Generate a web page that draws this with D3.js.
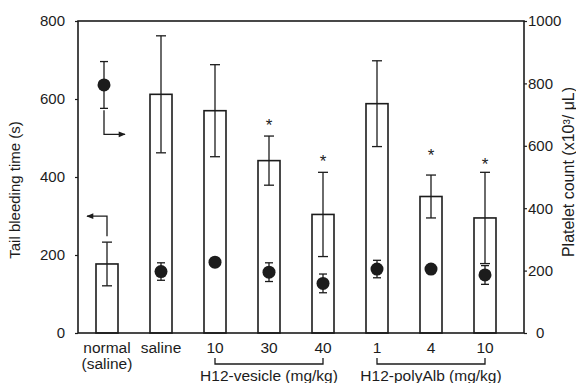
<!DOCTYPE html>
<html>
<head>
<meta charset="utf-8">
<script src="https://cdn.jsdelivr.net/npm/d3@7"></script>
<style>
	body { margin: 0; background: #fff; }
	svg text { font-family: "Liberation Sans", Arial, sans-serif; fill: #1c1c1c; }
</style>
</head>
<body>
<div id="chart"></div>
<script>
// groups along the x axis
var groups = ["normal", "saline", "v10", "v30", "v40", "p1", "p4", "p10"]
var tickLabels = ["normal", "saline", "10", "30", "40", "1", "4", "10"]

// tail bleeding time (s), left axis -> bars
var bleedMean = [177, 612, 570, 442, 304, 588, 350, 295]
var bleedErr = [56, 150, 118, 63, 108, 110, 55, 117]

// platelet count (x10^3/uL), right axis -> dots
var plateletMean = [795, 197, 227, 195, 159, 205, 205, 186]
var plateletErr = [75, 28, 14, 30, 30, 28, 8, 30]

// significance stars (left axis units), null = none
var starLevel = [null, null, null, 540, 448, null, 463, 440]

var leftTicks = [0, 200, 400, 600, 800]
var rightTicks = [0, 200, 400, 600, 800, 1000]

// dose brackets under the axis
var bracketNames = ["H12-vesicle (mg/kg)", "H12-polyAlb (mg/kg)"]
var bracketFrom = ["v10", "p1"]
var bracketTo = ["v40", "p10"]

var w = 576, h = 383
var ink = "#1c1c1c"

var svg = d3.select("#chart")
	.append("svg")
	.attr("width", w)
	.attr("height", h)

// plot frame (note: "top" is taken by window.top)
var frameL = 78, frameR = 524, frameT = 21, frameB = 333

var x = d3.scalePoint()
	.domain(groups)
	.range([107, 485])

var yL = d3.scaleLinear().domain([0, 800]).range([frameB, frameT])
var yR = d3.scaleLinear().domain([0, 1000]).range([frameB, frameT])

var barW = 22

// arrow head
svg.append("defs").append("marker")
	.attr("id", "head")
	.attr("viewBox", "0 0 10 10")
	.attr("refX", 9).attr("refY", 5)
	.attr("markerWidth", 8).attr("markerHeight", 7)
	.attr("markerUnits", "userSpaceOnUse")
	.attr("orient", "auto")
	.append("path")
	.attr("d", "M0,1 L10,5 L0,9 Z")
	.style("fill", ink)

// axes
var axisL = svg.append("g")
	.attr("transform", "translate(" + frameL + ",0)")
	.call(d3.axisLeft(yL).tickValues(leftTicks).tickFormat(d3.format("d")).tickSize(3).tickPadding(10))
var axisR = svg.append("g")
	.attr("transform", "translate(" + frameR + ",0)")
	.call(d3.axisRight(yR).tickValues(rightTicks).tickFormat(d3.format("d")).tickSize(3).tickPadding(1))

svg.selectAll(".tick text").style("font-size", "15px")
svg.selectAll(".domain").remove()
svg.selectAll(".tick line").style("stroke", ink).style("stroke-width", 1.2)
axisR.selectAll(".tick").filter(function(d) { return d === 0 })
	.select("text").attr("x", 12)

// frame
svg.append("rect")
	.attr("x", frameL).attr("y", frameT)
	.attr("width", frameR - frameL).attr("height", frameB - frameT)
	.style("fill", "none")
	.style("stroke", ink)
	.style("stroke-width", 1.6)

var data = groups.map(function(g, i) {
	return {g: g, label: tickLabels[i], bleed: bleedMean[i], bErr: bleedErr[i],
		plt: plateletMean[i], pErr: plateletErr[i], star: starLevel[i]}
})

// bars
svg.append("g").selectAll("rect")
	.data(data)
	.enter()
	.append("rect")
	.attr("x", function(d) { return x(d.g) - barW / 2 })
	.attr("y", function(d) { return yL(d.bleed) })
	.attr("width", barW)
	.attr("height", function(d) { return yL(0) - yL(d.bleed) })
	.style("fill", "none")
	.style("stroke", ink)
	.style("stroke-width", 1.6)

// bar error bars
var eb = svg.append("g").style("stroke", ink).style("stroke-width", 1.3)
data.forEach(function(d) {
	var cx = x(d.g), hi = yL(d.bleed + d.bErr), lo = yL(d.bleed - d.bErr)
	eb.append("line").attr("x1", cx).attr("x2", cx).attr("y1", hi).attr("y2", lo)
	eb.append("line").attr("x1", cx - 5).attr("x2", cx + 5).attr("y1", hi).attr("y2", hi)
	eb.append("line").attr("x1", cx - 5).attr("x2", cx + 5).attr("y1", lo).attr("y2", lo)
})

// platelet dots with error bars
var pe = svg.append("g").style("stroke", ink).style("stroke-width", 1.3)
data.forEach(function(d) {
	var cx = x(d.g) - (d.g == "normal" ? 3 : 0)
	var hi = yR(d.plt + d.pErr), lo = yR(d.plt - d.pErr)
	pe.append("line").attr("x1", cx).attr("x2", cx).attr("y1", hi).attr("y2", lo)
	pe.append("line").attr("x1", cx - 4).attr("x2", cx + 4).attr("y1", hi).attr("y2", hi)
	pe.append("line").attr("x1", cx - 4).attr("x2", cx + 4).attr("y1", lo).attr("y2", lo)
	pe.append("circle").attr("cx", cx).attr("cy", yR(d.plt)).attr("r", 6.5)
		.style("fill", ink).style("stroke", "none")
})

// stars
svg.append("g").selectAll("text")
	.data(data.filter(function(d) { return d.star != null }))
	.enter()
	.append("text")
	.attr("x", function(d) { return x(d.g) })
	.attr("y", function(d) { return yL(d.star) + 9 })
	.attr("text-anchor", "middle")
	.style("font-size", "17px")
	.text("*")

// arrows pointing to the axis each series uses
var n = data[0]
var ax = x(n.g) - 3, ay = yR(n.plt - n.pErr) + 2
svg.append("path")
	.attr("d", "M" + ax + "," + ay + " V" + (ay + 24) + " H" + (ax + 21))
	.style("fill", "none").style("stroke", ink).style("stroke-width", 1.3)
	.attr("marker-end", "url(#head)")
var bx = x(n.g), by = yL(n.bleed + n.bErr) - 6
svg.append("path")
	.attr("d", "M" + bx + "," + by + " V" + (by - 20) + " H" + (bx - 20))
	.style("fill", "none").style("stroke", ink).style("stroke-width", 1.3)
	.attr("marker-end", "url(#head)")

// x labels
svg.append("g").selectAll("text")
	.data(data)
	.enter()
	.append("text")
	.attr("x", function(d) { return x(d.g) })
	.attr("y", 353)
	.attr("text-anchor", "middle")
	.style("font-size", "15.5px")
	.text(function(d) { return d.label })

svg.append("text")
	.attr("x", x("normal"))
	.attr("y", 369)
	.attr("text-anchor", "middle")
	.style("font-size", "15.5px")
	.text("(saline)")

// dose brackets
bracketNames.forEach(function(name, i) {
	var x0 = x(bracketFrom[i]), x1 = x(bracketTo[i])
	svg.append("path")
		.attr("d", "M" + x0 + ",358 V364 H" + x1 + " V358")
		.style("fill", "none").style("stroke", ink).style("stroke-width", 1.3)
	svg.append("text")
		.attr("x", (x0 + x1) / 2)
		.attr("y", 381)
		.attr("text-anchor", "middle")
		.style("font-size", "15.5px")
		.text(name)
})

// axis titles
svg.append("text")
	.attr("transform", "translate(15,190) rotate(-90)")
	.attr("dy", "0.35em")
	.attr("text-anchor", "middle")
	.style("font-size", "15px")
	.text("Tail bleeding time (s)")

svg.append("text")
	.attr("transform", "translate(568,172) rotate(-90)")
	.attr("dy", "0.35em")
	.attr("text-anchor", "middle")
	.style("font-size", "16px")
	.text("Platelet count (x10³/ μL)")
</script>
</body>
</html>
